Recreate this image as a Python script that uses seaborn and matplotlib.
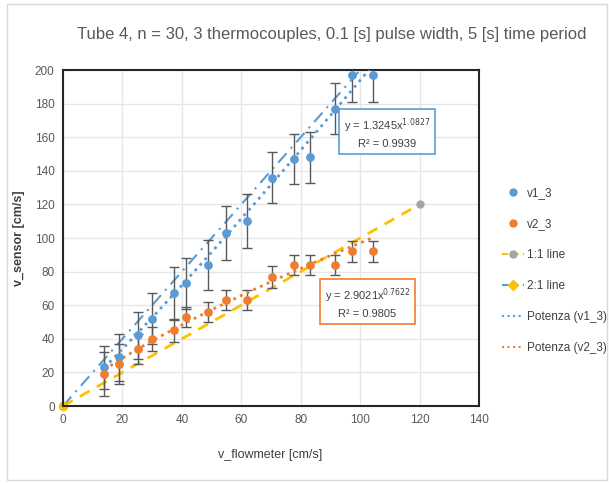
import numpy as np
import pandas as pd
import seaborn as sns
from matplotlib import pyplot as plt
from matplotlib.lines import Line2D
from matplotlib.patches import Rectangle

# values
v_flow = [13.9, 18.7, 25.4, 30.1, 37.4, 41.3, 48.7, 54.8, 61.8, 70.5, 77.9, 83.2, 91.4, 97.3, 104.3]
v1_3 = [23, 29, 42, 52, 67, 73, 84, 103, 110, 136, 147, 148, 177, 197, 197]
v1_err = [13, 14, 14, 15, 16, 15, 15, 16, 16, 15, 15, 15, 15, 16, 16]
v2_3 = [19, 25, 34, 40, 45, 53, 56, 63, 63, 77, 84, 84, 84, 92, 92]
v2_err = [13, 12, 9, 7, 7, 6, 6, 6, 6, 6.5, 6, 6, 6, 6, 6]

line11_x = [0, 120]
line11_y = [0, 120]
line21_x = [0, 100]
line21_y = [0, 200]

# power trendline coefficients (Excel "Potenza")
fit1 = (1.3245, 1.0827, 0.9939)
fit2 = (2.9021, 0.7622, 0.9805)

BLUE = "#5B9BD5"
ORANGE = "#ED7D31"
YELLOW = "#FFC000"
GRAY = "#A5A5A5"
DARK = "#595959"

sns.set_style("white")
plt.rcParams["font.family"] = ["Liberation Sans", "DejaVu Sans"]

fig = plt.figure(figsize=(6.09, 4.83), dpi=100)
ax = fig.add_axes([0.1034, 0.1594, 0.6831, 0.6956])
fig.patches.append(Rectangle((0.012, 0.006), 0.985, 0.985, transform=fig.transFigure,
                             fill=False, edgecolor="#D9D9D9", lw=1))

df = pd.DataFrame({"v_flow": v_flow, "v1_3": v1_3, "v2_3": v2_3})

# reference lines
ax.plot(line11_x, line11_y, ls=(0, (4, 3)), color=YELLOW, lw=2, marker="o",
        ms=5, mfc=GRAY, mec=GRAY, zorder=2)
ax.plot(line21_x, line21_y, ls=(0, (6, 3, 1, 3)), color=BLUE, lw=1.5, marker="o",
        ms=6, mfc=YELLOW, mec=YELLOW, markevery=[0], zorder=2, clip_on=False)

# error bars
ax.errorbar(v_flow, v1_3, yerr=v1_err, fmt="none", ecolor=DARK, elinewidth=1,
            capsize=3.5, capthick=1, zorder=3)
ax.errorbar(v_flow, v2_3, yerr=v2_err, fmt="none", ecolor=DARK, elinewidth=1,
            capsize=3.5, capthick=1, zorder=3)

# data points
sns.scatterplot(data=df, x="v_flow", y="v1_3", color=BLUE, s=40, edgecolor=BLUE,
                linewidth=0, zorder=4, ax=ax)
sns.scatterplot(data=df, x="v_flow", y="v2_3", color=ORANGE, s=40, edgecolor=ORANGE,
                linewidth=0, zorder=4, ax=ax)

# power trendlines
xs = np.linspace(min(v_flow), max(v_flow), 100)
ax.plot(xs, fit1[0] * xs ** fit1[1], ls=":", color=BLUE, lw=2, zorder=3)
ax.plot(xs, fit2[0] * xs ** fit2[1], ls=":", color=ORANGE, lw=2, zorder=3)

ax.text(109, 162.5, f"y = {fit1[0]}x$^{{{fit1[1]}}}$\nR² = {fit1[2]}", ha="center",
        va="center", fontsize=8, color="#404040", linespacing=1.5,
        bbox=dict(boxstyle="square,pad=0.4", fc="white", ec=BLUE, lw=1.2), zorder=5)
ax.text(102.5, 61.3, f"y = {fit2[0]}x$^{{{fit2[1]}}}$\nR² = {fit2[2]}", ha="center",
        va="center", fontsize=8, color="#404040", linespacing=1.5,
        bbox=dict(boxstyle="square,pad=0.4", fc="white", ec=ORANGE, lw=1.2), zorder=5)

ax.set_xlim(0, 140)
ax.set_ylim(0, 200)
ax.set_xticks(range(0, 141, 20))
ax.set_yticks(range(0, 201, 20))
ax.grid(True, color="#E6E6E6", lw=1)
ax.set_axisbelow(True)
for sp in ax.spines.values():
    sp.set_visible(True)
    sp.set_color("#262626")
    sp.set_linewidth(1.5)
ax.tick_params(axis="both", length=0, labelsize=8.5, labelcolor="#595959", pad=6)
ax.set_xlabel("")
ax.set_ylabel("")

fig.text(0.545, 0.928, "Tube 4, n = 30, 3 thermocouples, 0.1 [s] pulse width, 5 [s] time period",
         ha="center", va="center", fontsize=12, color="#595959")
fig.text(0.443, 0.058, "v_flowmeter [cm/s]", ha="center", va="center", fontsize=9,
         color="#404040")
fig.text(0.032, 0.507, "v_sensor [cm/s]", ha="center", va="center", fontsize=9,
         color="#404040", rotation=90, fontweight="bold")

handles = [
    Line2D([], [], ls="none", marker="o", ms=5, color=BLUE),
    Line2D([], [], ls="none", marker="o", ms=5, color=ORANGE),
    Line2D([], [], ls=(0, (3, 2)), color=YELLOW, lw=1.5, marker="o", ms=5, mfc=GRAY, mec=GRAY),
    Line2D([], [], ls=(0, (3, 2)), color=BLUE, lw=1.5, marker="D", ms=5, mfc=YELLOW, mec=YELLOW),
    Line2D([], [], ls=":", color=BLUE, lw=1.5),
    Line2D([], [], ls=":", color=ORANGE, lw=1.5),
]
labels = ["v1_3", "v2_3", "1:1 line", "2:1 line", "Potenza (v1_3)", "Potenza (v2_3)"]
fig.legend(handles, labels, loc="center left", bbox_to_anchor=(0.825, 0.44),
           frameon=False, fontsize=8.5, labelspacing=1.6, handlelength=1.8,
           handletextpad=0.3, labelcolor="#404040", borderpad=0, borderaxespad=0)

fig.savefig("out.png", dpi=100)
